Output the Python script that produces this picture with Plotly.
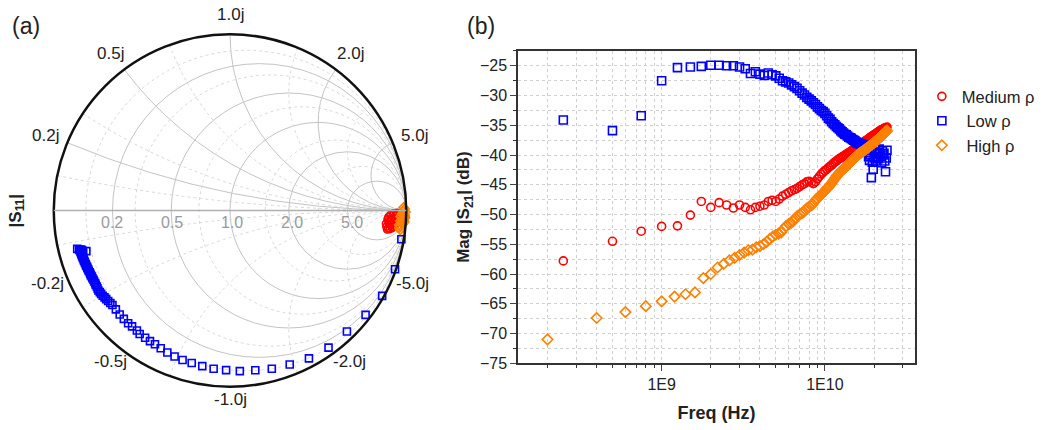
import numpy as np
import plotly.graph_objects as go

# ---------------- Panel (b): |S21| vs frequency ----------------
freq_rb_ghz = [0.25, 0.5, 0.75, 1.0, 1.25, 1.5, 1.75, 2.0, 2.25, 2.5, 2.75, 3.0, 3.25, 3.5, 3.75, 4.0,
               4.25, 4.5, 4.75, 5.0, 5.25, 5.5, 5.75, 6.0, 6.25, 6.5, 6.75, 7.0, 7.25, 7.5, 7.75, 8.0,
               8.25, 8.5, 8.75, 9.0, 9.25, 9.5, 9.75, 10.0, 10.25, 10.5, 10.75, 11.0, 11.25, 11.5, 11.75, 12.0,
               12.25, 12.5, 12.75, 13.0, 13.25, 13.5, 13.75, 14.0, 14.25, 14.5, 14.75, 15.0, 15.25, 15.5, 15.75, 16.0,
               16.25, 16.5, 16.75, 17.0, 17.25, 17.5, 17.75, 18.0, 18.25, 18.5, 18.75, 19.0, 19.25, 19.5, 19.75, 20.0,
               20.25, 20.5, 20.75, 21.0, 21.25, 21.5, 21.75, 22.0, 22.25, 22.5, 22.75, 23.0, 23.25, 23.5, 23.75, 24.0]

s21_medium = [-57.8, -54.5, -52.8, -52.0, -51.9, -50.1, -47.8, -48.8, -48.0, -48.4, -48.9, -48.4, -48.8, -49.2, -48.8, -48.6,
              -48.4, -47.8, -47.6, -47.8, -47.4, -46.9, -46.6, -46.3, -46.0, -45.8, -45.6, -45.3, -45.0, -44.8, -44.5, -44.4,
              -44.6, -44.8, -44.5, -44.0, -43.6, -43.2, -42.9, -42.6, -42.4, -42.1, -41.9, -41.7, -41.4, -41.2, -41.0, -40.8,
              -40.6, -40.5, -40.3, -40.2, -40.0, -39.9, -39.7, -39.6, -39.5, -39.3, -39.2, -39.0, -38.9, -38.8, -38.6, -38.5,
              -38.4, -38.2, -38.1, -38.0, -37.9, -37.7, -37.6, -37.5, -37.4, -37.3, -37.1, -37.0, -36.9, -36.8, -36.7, -36.6,
              -36.5, -36.4, -36.3, -36.2, -36.1, -36.0, -35.9, -35.8, -35.8, -35.7, -35.6, -35.5, -35.5, -35.4, -35.4, -35.3]

s21_low = [-34.1, -35.9, -33.4, -27.5, -25.3, -25.2, -25.1, -24.9, -24.9, -25.0, -25.0, -25.2, -25.5, -26.3, -26.0, -26.4,
           -26.6, -26.2, -26.5, -26.7, -27.1, -27.5, -27.7, -27.9, -28.2, -28.5, -28.8, -29.2, -29.6, -29.9, -30.3, -30.6,
           -30.9, -31.2, -31.5, -31.9, -32.2, -32.5, -32.7, -33.0, -33.4, -33.8, -34.0, -34.4, -34.7, -34.9, -35.2, -35.4,
           -35.6, -35.9, -36.1, -36.3, -36.5, -36.6, -36.8, -37.0, -37.1, -37.2, -37.4, -37.5, -37.6, -37.8, -37.9, -38.0,
           -38.1, -38.1, -38.2, -38.3, -38.3, -38.4, -38.5, -38.6, -39.2, -40.3, -40.9, -40.0, -43.8, -41.2, -42.4, -40.5,
           -39.5, -41.0, -40.3, -39.6, -40.6, -39.0, -39.8, -40.2, -41.3, -39.3, -40.0, -39.7, -41.0, -42.8, -40.5, -39.2]

freq_high_ghz = [0.2, 0.4, 0.6, 0.8, 1.0, 1.2, 1.4, 1.6, 1.8, 2.0, 2.2, 2.4, 2.6, 2.8, 3.0, 3.2, 3.4, 3.6, 3.8, 4.0,
                 4.2, 4.4, 4.6, 4.8, 5.0, 5.2, 5.4, 5.6, 5.8, 6.0, 6.2, 6.4, 6.6, 6.8, 7.0, 7.2, 7.4, 7.6, 7.8, 8.0,
                 8.2, 8.4, 8.6, 8.8, 9.0, 9.2, 9.4, 9.6, 9.8, 10.0, 10.2, 10.4, 10.6, 10.8, 11.0, 11.2, 11.4, 11.6, 11.8, 12.0,
                 12.2, 12.4, 12.6, 12.8, 13.0, 13.2, 13.4, 13.6, 13.8, 14.0, 14.2, 14.4, 14.6, 14.8, 15.0, 15.2, 15.4, 15.6, 15.8, 16.0,
                 16.2, 16.4, 16.6, 16.8, 17.0, 17.2, 17.4, 17.6, 17.8, 18.0, 18.2, 18.4, 18.6, 18.8, 19.0, 19.2, 19.4, 19.6, 19.8, 20.0,
                 20.2, 20.4, 20.6, 20.8, 21.0, 21.2, 21.4, 21.6, 21.8, 22.0, 22.2, 22.4, 22.6, 22.8, 23.0, 23.2, 23.4, 23.6, 23.8, 24.0]

s21_high = [-71.0, -67.4, -66.4, -65.4, -64.6, -63.8, -63.4, -63.1, -60.7, -60.0, -58.9, -58.3, -57.7, -57.3, -56.8, -56.4, -56.0, -55.9, -55.5, -55.3,
            -55.0, -54.6, -54.1, -53.7, -53.4, -53.2, -53.0, -52.4, -51.9, -51.6, -51.4, -51.1, -50.6, -50.2, -50.0, -49.8, -49.6, -49.2, -48.9, -48.7,
            -48.5, -48.3, -47.9, -47.5, -47.3, -47.0, -46.8, -46.5, -46.3, -46.0, -45.7, -45.5, -45.3, -45.0, -44.7, -44.4, -44.1, -43.8, -43.5, -43.3,
            -43.1, -42.9, -42.7, -42.5, -42.3, -42.2, -42.0, -41.8, -41.7, -41.5, -41.3, -41.1, -40.9, -40.8, -40.6, -40.5, -40.3, -40.2, -40.1, -39.9,
            -39.8, -39.7, -39.6, -39.5, -39.4, -39.3, -39.2, -39.1, -39.0, -38.9, -38.8, -38.7, -38.6, -38.5, -38.4, -38.3, -38.2, -38.1, -38.0, -37.9,
            -37.8, -37.7, -37.6, -37.5, -37.4, -37.3, -37.2, -37.1, -37.0, -36.9, -36.8, -36.7, -36.6, -36.5, -36.4, -36.3, -36.2, -36.1, -36.0, -35.9]

# ---------------- Panel (a): S11 on Smith chart (magnitude, phase in degrees) ----------------
s11_low_mag = [0.986, 0.994, 0.990, 0.971, 0.955, 0.958, 0.951, 0.937, 0.929, 0.918, 0.913, 0.906, 0.903, 0.897, 0.892, 0.890,
               0.886, 0.881, 0.875, 0.870, 0.869, 0.868, 0.868, 0.862, 0.861, 0.862, 0.861, 0.860, 0.857, 0.856,
               0.858, 0.861, 0.864, 0.866, 0.869, 0.871, 0.872, 0.874, 0.872, 0.870, 0.871, 0.869, 0.870, 0.868, 0.870,
               0.869, 0.871, 0.870, 0.870, 0.872, 0.871, 0.873, 0.872, 0.874, 0.873, 0.875, 0.874, 0.876, 0.875, 0.877,
               0.876, 0.878, 0.877, 0.879, 0.878, 0.880, 0.879, 0.882, 0.884, 0.894, 0.870, 0.866, 0.868, 0.873, 0.871, 0.847]
s11_low_ph = [-9.5, -19.6, -29.3, -37.6, -46.0, -54.3, -61.9, -68.8, -75.2, -81.0, -86.5, -91.4, -95.9, -100.1, -104.1, -107.6,
              -110.8, -113.8, -116.7, -119.3, -121.5, -123.7, -126.2, -127.8, -130.2, -132.1, -134.4, -136.7, -139.1, -141.2,
              -142.3, -143.4, -144.4, -145.3, -146.2, -147.1, -147.9, -148.7, -149.5, -150.3, -151.0, -151.7, -152.4, -153.1, -153.8,
              -154.4, -155.0, -155.6, -156.2, -156.8, -157.4, -158.0, -158.5, -159.0, -159.5, -160.0, -160.5, -161.0, -161.5, -162.0,
              -162.4, -162.8, -163.2, -163.6, -164.0, -164.4, -164.8, -165.2, -165.5, -165.9, -165.0, -164.6, -163.8, -165.3, -164.2, -164.2]

s11_medium_mag = [0.996, 0.964, 0.950, 0.927, 0.899, 0.888, 0.903, 0.929, 0.946, 0.918, 0.935, 0.910, 0.895, 0.905, 0.925,
                  0.940, 0.952, 0.945, 0.930, 0.915, 0.900, 0.892, 0.898, 0.912, 0.922, 0.938, 0.944, 0.933, 0.920, 0.908]
s11_medium_ph = [-1.8, -2.7, -0.8, -1.1, -2.4, -4.8, -6.5, -5.8, -3.9, -3.5, -2.0, -1.6, -3.2, -5.0, -6.2,
                 -5.2, -2.5, -1.5, -1.2, -2.9, -3.8, -5.9, -6.9, -6.7, -4.6, -3.0, -4.4, -3.5, -4.9, -4.2]

s11_high_mag = [0.991, 0.996, 0.985, 0.972, 0.968, 0.963, 0.972, 0.991, 0.980, 0.975, 0.985, 0.990, 0.978, 0.966, 0.970,
                0.982, 0.994, 0.988, 0.976, 0.969]
s11_high_ph = [0.5, -0.5, 1.0, -2.2, -3.5, -4.9, -6.5, -3.8, -2.8, -1.2, -0.2, -1.6, -4.3, -5.8, -5.3,
               -4.6, -2.4, -3.2, -3.0, -2.0]

smith_ticks = [0.2, 0.5, 1.0, 2.0, 5.0]

RED = "#ff0000"
BLUE = "#0000ff"
ORANGE = "#ff8000"
GRID = "#cfcfcf"
FONT = "Liberation Sans, Arial, sans-serif"
W, H = 1044, 430
# Smith chart circle geometry on the page (pixels)
CX, CY, R = 230.0, 215.0, 180.0


def s11_to_z(mag, ph):
    g = np.asarray(mag) * np.exp(1j * np.deg2rad(np.asarray(ph)))
    z = (1 + g) / (1 - g)
    return z.real, z.imag


fig = go.Figure()

# minor (dotted) grid of the Smith chart
big = np.concatenate([np.linspace(0, 2, 60), np.logspace(np.log10(2.05), 4, 80)])
for r in [0.1, 0.3, 0.7, 1.5, 3.0]:
    im = np.concatenate([-big[::-1], big])
    fig.add_trace(go.Scattersmith(real=[r] * len(im), imag=im, mode="lines",
                                  line=dict(color="#d9d9d9", width=1, dash="dot"),
                                  hoverinfo="skip", showlegend=False, subplot="smith"))
for x in [0.1, 0.3, 0.7, 1.5, 3.0]:
    for sgn in (1, -1):
        fig.add_trace(go.Scattersmith(real=big, imag=[sgn * x] * len(big), mode="lines",
                                      line=dict(color="#d9d9d9", width=1, dash="dot"),
                                      hoverinfo="skip", showlegend=False, subplot="smith"))

for mag, ph, col, sym in [(s11_medium_mag, s11_medium_ph, RED, "circle-open"),
                          (s11_low_mag, s11_low_ph, BLUE, "square-open"),
                          (s11_high_mag, s11_high_ph, ORANGE, "diamond-open")]:
    zr, zi = s11_to_z(mag, ph)
    fig.add_trace(go.Scattersmith(real=zr, imag=zi, mode="markers", subplot="smith", showlegend=False,
                                  marker=dict(symbol=sym, size=7, color=col, line=dict(width=1.6, color=col))))

# S21 panel
for f, v, col, sym, name in [(freq_rb_ghz, s21_medium, RED, "circle-open", "Medium ρ"),
                             (freq_rb_ghz, s21_low, BLUE, "square-open", "\u00a0Low ρ"),
                             (freq_high_ghz, s21_high, ORANGE, "diamond-open", "\u00a0High ρ")]:
    fig.add_trace(go.Scatter(x=np.asarray(f) * 1e9, y=v, mode="markers", name=name,
                             marker=dict(symbol=sym, size=8, color=col, line=dict(width=1.6, color=col))))

minor_x = [2e8, 3e8, 4e8, 5e8, 6e8, 7e8, 8e8, 9e8, 2e9, 3e9, 4e9, 5e9, 6e9, 7e9, 8e9, 9e9, 2e10, 3e10]

annotations = [
    dict(text="(a)", x=26, y=27, font=dict(size=23)),
    dict(text="(b)", x=481, y=27, font=dict(size=23)),
    dict(text="<b>|S<sub>11</sub>|</b>", x=17, y=216, textangle=-90, font=dict(size=17)),
]
# Smith chart tick labels (real axis: grey, below the axis line; reactance: outside the circle)
for v in smith_ticks:
    gx = (v - 1) / (v + 1)
    annotations.append(dict(text=f"{v:.1f}", x=CX + gx * R + 2, y=CY + 12,
                            font=dict(size=16, color="#9a9a9a")))
    ang = np.pi - 2 * np.arctan(v)
    annotations.append(dict(text=f"{v:.1f}j", x=CX + 200 * np.cos(ang), y=CY - 200 * np.sin(ang),
                            font=dict(size=17)))
    annotations.append(dict(text=f"-{v:.1f}j", x=CX + 196 * np.cos(ang) + (2 if v > 1 else 0) - (2 if v < 1 else 0),
                            y=CY + 193 * np.sin(ang), font=dict(size=17)))
for a in annotations:
    a.update(xref="paper", yref="paper", showarrow=False, xanchor="center", yanchor="middle")
    a["x"] = a["x"] / W
    a["y"] = 1 - a["y"] / H

fig.update_layout(
    width=W, height=H,
    margin=dict(l=0, r=0, t=0, b=0),
    paper_bgcolor="white", plot_bgcolor="white",
    font=dict(family=FONT, size=16, color="#222222"),
    smith=dict(
        domain=dict(x=[(CX - R) / W, (CX + R) / W], y=[1 - (CY + R) / H, 1 - (CY - R) / H]),
        bgcolor="white",
        realaxis=dict(tickvals=smith_ticks, showticklabels=False, ticks="",
                      gridcolor="#c4c4c4", gridwidth=1, linecolor="#b0b0b0", linewidth=1.5),
        imaginaryaxis=dict(tickvals=smith_ticks, showticklabels=False, ticks="",
                           gridcolor="#c4c4c4", gridwidth=1, linecolor="#111111", linewidth=2.5),
    ),
    xaxis=dict(type="log", domain=[0.4962, 0.8764], range=[np.log10(1.32e8), np.log10(3.56e10)],
               tickvals=[1e9, 1e10], ticktext=["1E9", "1E10"], ticks="outside", ticklen=6, tickwidth=1.2,
               showline=True, linecolor="#333333", linewidth=1.5, mirror=True,
               showgrid=True, gridcolor=GRID, griddash="dot", gridwidth=1, zeroline=False,
               tickfont=dict(size=16),
               minor=dict(tickvals=minor_x, ticks="outside", ticklen=3, tickcolor="#333333",
                          showgrid=True, gridcolor=GRID, griddash="dot"),
               title=dict(text="<b>Freq (Hz)</b>", font=dict(size=18), standoff=14)),
    yaxis=dict(domain=[0.1372, 0.879], range=[-75, -22.5], dtick=5, ticks="outside", ticklen=6, tickwidth=1.2,
               showline=True, linecolor="#333333", linewidth=1.5, mirror=True,
               showgrid=True, gridcolor=GRID, griddash="dot", gridwidth=1, zeroline=False,
               tickfont=dict(size=16),
               minor=dict(dtick=2.5, ticks="outside", ticklen=3, tickcolor="#333333",
                          showgrid=True, gridcolor=GRID, griddash="dot"),
               title=dict(text="<b>Mag |S<sub>21</sub>| (dB)</b>", font=dict(size=17), standoff=6)),
    legend=dict(x=0.883, y=0.812, xanchor="left", yanchor="top", font=dict(size=16.5, color="#222222"),
                bgcolor="rgba(0,0,0,0)", tracegroupgap=0),
    annotations=annotations,
)

fig.write_html("out.html")
